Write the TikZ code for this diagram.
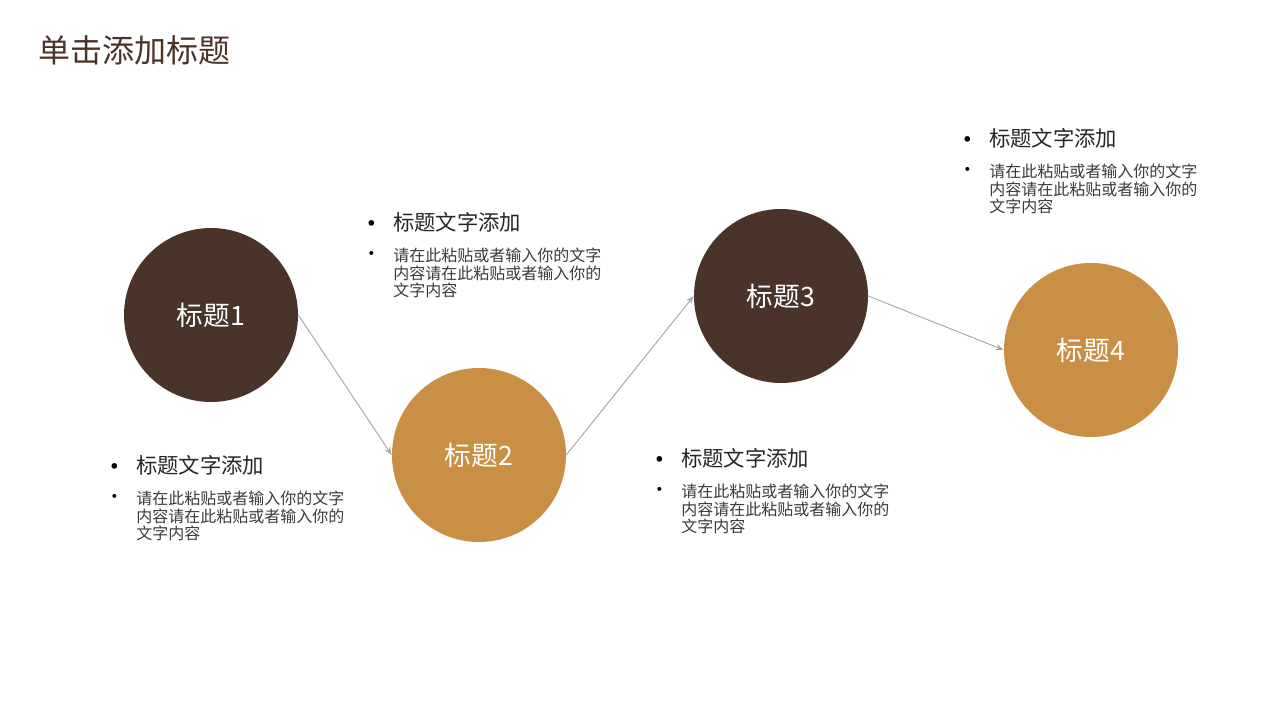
\documentclass[tikz,border=0pt]{standalone}
\usepackage{fontspec}
\setmainfont{Noto Sans CJK SC}
\usetikzlibrary{positioning,arrows.meta}
\definecolor{darkbrown}{HTML}{4A3429}
\definecolor{ochre}{HTML}{C98F45}
\definecolor{linkgray}{HTML}{A6A6A6}
\definecolor{headgray}{HTML}{262626}
\definecolor{bodygray}{HTML}{3A3A3A}

\begin{document}
\begin{tikzpicture}[
        x=0.75pt,y=-0.75pt,
        ball/.style={
          circle,
          inner sep=0pt,
          minimum size=130.5pt,
          text=white,
          font=\fontsize{20}{24}\selectfont
          },
        link/.style={
          draw=linkgray,
          line width=0.7pt,
          -{Stealth[length=6pt,width=4.5pt]}
          },
        head/.style={
          anchor=west,
          inner sep=0pt,
          text=headgray,
          font=\fontsize{16}{19}\selectfont
          },
        body/.style={
          anchor=north west,
          inner sep=0pt,
          align=left,
          text=bodygray,
          font=\fontsize{12}{13.1}\selectfont
          },
        bigdot/.style={inner sep=0pt, text=black, font=\fontsize{20}{22}\selectfont},
        smalldot/.style={inner sep=0pt, text=black, font=\fontsize{14}{16}\selectfont}
        ]
        \useasboundingbox (0,0) rectangle (1280,720);
        % title
        \node[anchor=west, inner sep=0pt, text=darkbrown, font=\fontsize{24}{28}\selectfont] (title) at (38,50) {单击添加标题};
        % circles
        \foreach \name/\x/\y/\col/\num in {c1/211/315/darkbrown/1, c2/479/455/ochre/2, c3/781/296/darkbrown/3, c4/1091/350/ochre/4}
          \node[ball, fill=\col] (\name) at (\x,\y) {标题\num};
        \draw[link] (c1.east) -- (c2.west);
        \draw[link] (c2.east) -- (c3.west);
        \draw[link] (c3.east) -- (c4.west);
        % text blocks
        \foreach \name/\x/\y in {t1/136/465, t2/393/222, t3/681/458, t4/989/138}
        {
          \node[head] (\name-head) at (\x,\y) {标题文字添加};
          \node[bigdot] (\name-dot) at (\x-21,\y+5) {•};
          \node[body] (\name-body) at (\x,\y+26) {请在此粘贴或者输入你的文字\\内容请在此粘贴或者输入你的\\文字内容};
          \node[smalldot] (\name-dot2) at (\x-21,\y+34) {•};
        }
\end{tikzpicture}
\end{document}
